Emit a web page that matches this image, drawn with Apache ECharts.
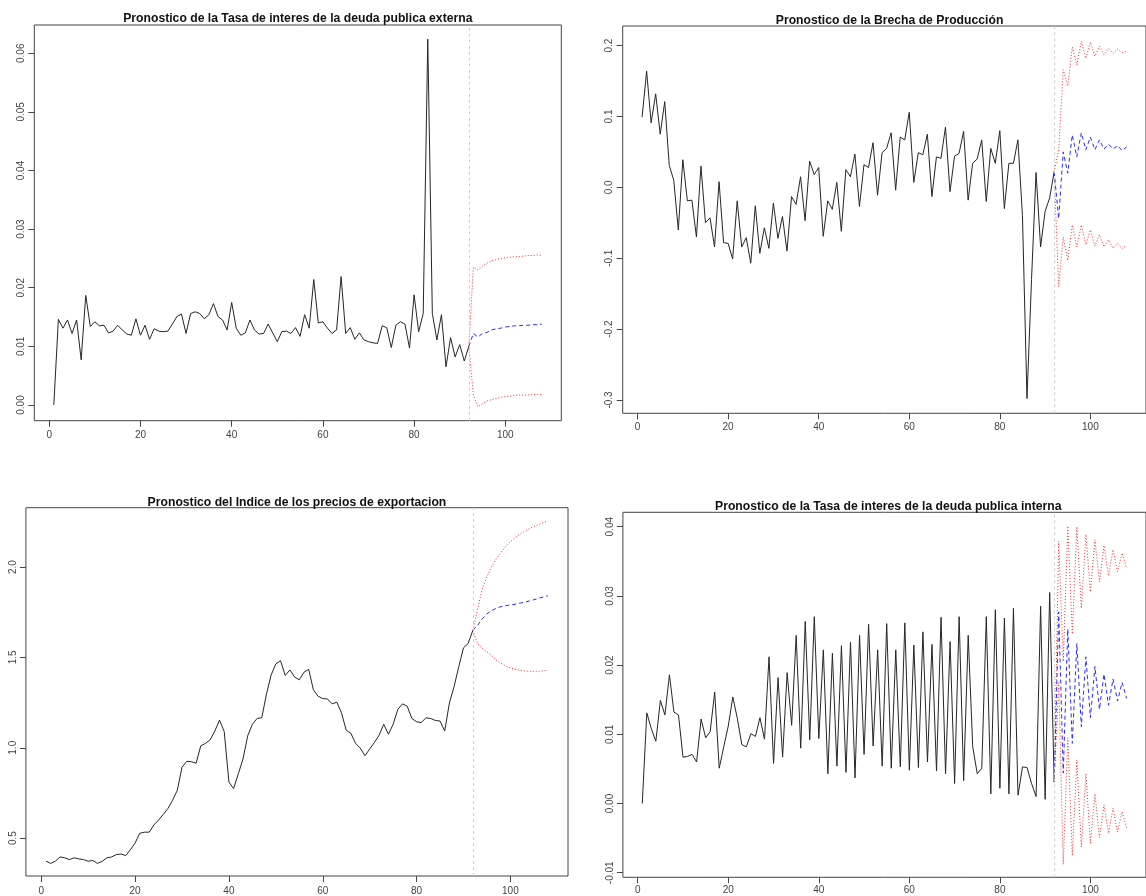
<!DOCTYPE html>
<html>
<head>
<meta charset="utf-8">
<title>Pronosticos</title>
<script src="https://cdn.jsdelivr.net/npm/echarts@6.0.0/dist/echarts.min.js"></script>
<style>
  html, body { margin: 0; padding: 0; background: #ffffff; }
  #chart { width: 1146px; height: 896px; }
</style>
</head>
<body>
<div id="chart"></div>
<script>
// Observed period is t = 1..92; forecasts cover t = 93..108.
const lastObserved = 92;
const xTicks = [0, 20, 40, 60, 80, 100];

// Tasa de interes de la deuda publica externa
const extObs = [0.0000,0.0146,0.0131,0.0145,0.0122,0.0145,0.0077,0.0187,0.0134,0.0142,
  0.0135,0.0136,0.0123,0.0126,0.0136,0.0128,0.0121,0.0119,0.0147,0.0119,
  0.0136,0.0112,0.0130,0.0126,0.0125,0.0126,0.0138,0.0151,0.0155,0.0122,
  0.0156,0.0159,0.0156,0.0147,0.0154,0.0173,0.0151,0.0145,0.0128,0.0175,
  0.0131,0.0119,0.0123,0.0145,0.0128,0.0121,0.0122,0.0138,0.0123,0.0108,
  0.0125,0.0126,0.0122,0.0132,0.0117,0.0154,0.0131,0.0214,0.0140,0.0142,
  0.0131,0.0122,0.0128,0.0219,0.0122,0.0132,0.0112,0.0123,0.0111,0.0108,
  0.0106,0.0105,0.0135,0.0132,0.0098,0.0136,0.0142,0.0138,0.0097,0.0188,
  0.0125,0.0156,0.0624,0.0156,0.0111,0.0154,0.0065,0.0115,0.0082,0.0103,
  0.0075,0.0100];
const extMean  = [0.0122,0.0116,0.0122,0.0124,0.0128,0.0130,0.0131,0.0133,0.0134,0.0135,0.0135,0.0136,0.0136,0.0137,0.0137,0.0138];
const extUpper = [0.0235,0.0230,0.0237,0.0242,0.0246,0.0248,0.0250,0.0251,0.0252,0.0253,0.0253,0.0254,0.0255,0.0255,0.0256,0.0255];
const extLower = [0.0017,-0.0003,0.0002,0.0007,0.0009,0.0011,0.0013,0.0014,0.0015,0.0016,0.0017,0.0017,0.0017,0.0018,0.0018,0.0018];
const extYTicks  = [0, 0.01, 0.02, 0.03, 0.04, 0.05, 0.06];
const extYLabels = ['0.00', '0.01', '0.02', '0.03', '0.04', '0.05', '0.06'];

// Brecha de Produccion
const gapObs = [0.099,0.164,0.091,0.132,0.075,0.121,0.031,0.010,-0.060,0.039,
  -0.019,-0.018,-0.070,0.030,-0.050,-0.043,-0.084,0.008,-0.078,-0.079,
  -0.101,-0.019,-0.084,-0.071,-0.107,-0.026,-0.093,-0.057,-0.086,-0.022,
  -0.072,-0.041,-0.090,-0.013,-0.024,0.015,-0.047,0.037,0.018,0.028,
  -0.069,-0.019,-0.031,0.007,-0.062,0.025,0.015,0.047,-0.027,0.032,
  0.028,0.063,-0.011,0.049,0.055,0.077,-0.004,0.071,0.067,0.106,
  0.007,0.049,0.046,0.075,-0.013,0.043,0.041,0.085,-0.006,0.044,
  0.048,0.079,-0.018,0.034,0.040,0.067,-0.020,0.055,0.034,0.080,
  -0.030,0.034,0.034,0.067,-0.040,-0.298,-0.130,0.021,-0.084,-0.034,
  -0.015,0.022];
const gapMean  = [-0.044,0.050,0.020,0.074,0.043,0.077,0.053,0.071,0.053,0.067,0.054,0.061,0.054,0.059,0.052,0.057];
const gapUpper = [0.053,0.166,0.143,0.198,0.173,0.206,0.182,0.205,0.185,0.199,0.187,0.196,0.189,0.195,0.190,0.192];
const gapLower = [-0.140,-0.070,-0.103,-0.053,-0.084,-0.053,-0.081,-0.060,-0.083,-0.067,-0.084,-0.074,-0.086,-0.079,-0.086,-0.082];
const gapYTicks  = [-0.3, -0.2, -0.1, 0, 0.1, 0.2];
const gapYLabels = ['-0.3', '-0.2', '-0.1', '0.0', '0.1', '0.2'];

// Indice de los precios de exportacion
const priceObs = [0.372,0.360,0.372,0.396,0.391,0.381,0.391,0.385,0.381,0.372,
  0.376,0.360,0.372,0.391,0.396,0.409,0.412,0.403,0.436,0.473,
  0.527,0.533,0.533,0.573,0.600,0.631,0.664,0.710,0.765,0.892,
  0.925,0.923,0.914,1.011,1.024,1.044,1.093,1.153,1.089,0.810,
  0.774,0.856,0.938,1.066,1.130,1.162,1.166,1.297,1.403,1.464,
  1.482,1.400,1.431,1.391,1.376,1.418,1.434,1.321,1.285,1.272,
  1.270,1.243,1.252,1.193,1.097,1.080,1.024,0.998,0.956,0.993,
  1.029,1.069,1.130,1.075,1.130,1.212,1.243,1.230,1.162,1.144,
  1.139,1.166,1.162,1.151,1.148,1.093,1.248,1.339,1.449,1.553,
  1.577,1.650];
const priceMean  = [1.677,1.713,1.741,1.759,1.772,1.781,1.786,1.790,1.794,1.800,1.805,1.812,1.819,1.827,1.834,1.841];
const priceUpper = [1.768,1.878,1.947,2.002,2.046,2.082,2.115,2.140,2.162,2.182,2.197,2.212,2.224,2.235,2.246,2.255];
const priceLower = [1.577,1.549,1.531,1.509,1.485,1.467,1.453,1.442,1.434,1.429,1.425,1.423,1.423,1.423,1.425,1.430];
const priceYTicks  = [0.5, 1.0, 1.5, 2.0];
const priceYLabels = ['0.5', '1.0', '1.5', '2.0'];

// Tasa de interes de la deuda publica interna
const intObs = [0.0000,0.0131,0.0108,0.0090,0.0149,0.0128,0.0186,0.0132,0.0128,0.0067,
  0.0068,0.0071,0.0060,0.0122,0.0095,0.0104,0.0161,0.0051,0.0082,0.0112,
  0.0154,0.0123,0.0085,0.0082,0.0101,0.0097,0.0124,0.0093,0.0212,0.0058,
  0.0182,0.0067,0.0189,0.0113,0.0243,0.0080,0.0263,0.0092,0.0270,0.0094,
  0.0222,0.0043,0.0217,0.0054,0.0228,0.0045,0.0233,0.0037,0.0243,0.0071,
  0.0259,0.0083,0.0222,0.0054,0.0260,0.0051,0.0222,0.0053,0.0261,0.0048,
  0.0229,0.0052,0.0248,0.0060,0.0230,0.0047,0.0269,0.0043,0.0234,0.0029,
  0.0270,0.0033,0.0243,0.0082,0.0043,0.0051,0.0270,0.0014,0.0280,0.0022,
  0.0268,0.0014,0.0282,0.0012,0.0053,0.0052,0.0029,0.0010,0.0285,0.0006,
  0.0305,0.0031];
const intMean  = [0.0277,0.0044,0.0252,0.0087,0.0231,0.0111,0.0212,0.0124,0.0198,0.0136,0.0187,0.0142,0.0180,0.0148,0.0175,0.0152];
const intUpper = [0.0379,0.0205,0.0401,0.0245,0.0400,0.0282,0.0389,0.0306,0.0381,0.0320,0.0373,0.0329,0.0367,0.0335,0.0362,0.0340];
const intLower = [0.0175,-0.0088,0.0095,-0.0075,0.0063,-0.0063,0.0043,-0.0057,0.0014,-0.0049,-0.0002,-0.0043,-0.0007,-0.0041,-0.0012,-0.0036];
const intYTicks  = [-0.01, 0, 0.01, 0.02, 0.03, 0.04];
const intYLabels = ['-0.01', '0.00', '0.01', '0.02', '0.03', '0.04'];

const panels = [
  { title: 'Pronostico de la Tasa de interes de la deuda publica externa',
    obs: extObs, mean: extMean, upper: extUpper, lower: extLower,
    yTicks: extYTicks, yLabels: extYLabels, yMin: -0.00268, yMax: 0.06482,
    box: { left: 34.3, top: 25, width: 527, height: 395.7 }, titleTop: 12.5, xMargin: 10 },
  { title: 'Pronostico de la Brecha de Producción',
    obs: gapObs, mean: gapMean, upper: gapUpper, lower: gapLower,
    yTicks: gapYTicks, yLabels: gapYLabels, yMin: -0.3188, yMax: 0.2277,
    box: { left: 622.7, top: 26, width: 533.7, height: 387.3 }, titleTop: 14, xMargin: 9 },
  { title: 'Pronostico del Indice de los precios de exportacion',
    obs: priceObs, mean: priceMean, upper: priceUpper, lower: priceLower,
    yTicks: priceYTicks, yLabels: priceYLabels, yMin: 0.2904, yMax: 2.3284,
    box: { left: 25.9, top: 507.7, width: 542.1, height: 372.3 }, titleTop: 496, xMargin: 10 },
  { title: 'Pronostico de la Tasa de interes de la deuda publica interna',
    obs: intObs, mean: intMean, upper: intUpper, lower: intLower,
    yTicks: intYTicks, yLabels: intYLabels, yMin: -0.01066, yMax: 0.04208,
    box: { left: 622.9, top: 512.3, width: 530.8, height: 365 }, titleTop: 500, xMargin: 8 }
];

const axisColor = '#444';
const labelFont = { fontFamily: 'Liberation Sans, Arial, sans-serif', fontSize: 10, color: '#444' };

const option = {
  animation: false,
  backgroundColor: '#ffffff',
  title: [], grid: [], xAxis: [], yAxis: [], series: []
};

panels.forEach(function (p, i) {
  option.title.push({
    text: p.title,
    left: p.box.left + p.box.width / 2,
    top: p.titleTop,
    textAlign: 'center',
    padding: 0,
    textStyle: { fontFamily: 'Liberation Sans, Arial, sans-serif', fontSize: 12.2,
                 fontWeight: 'bold', color: '#111', lineHeight: 13 }
  });
  option.grid.push({
    left: p.box.left, top: p.box.top, width: p.box.width, height: p.box.height,
    show: true, borderColor: axisColor, borderWidth: 1, backgroundColor: 'transparent',
    containLabel: false
  });
  option.xAxis.push({
    type: 'value', gridIndex: i, min: -3.28, max: 112.28, position: 'bottom',
    axisLine: { show: false, onZero: false },
    splitLine: { show: false },
    axisTick: { show: true, inside: false, length: 6, customValues: xTicks,
                lineStyle: { color: axisColor, width: 1 } },
    axisLabel: Object.assign({ show: true, margin: p.xMargin, customValues: xTicks,
                formatter: function (v) { return String(v); } }, labelFont)
  });
  option.yAxis.push({
    type: 'value', gridIndex: i, min: p.yMin, max: p.yMax, position: 'left',
    axisLine: { show: false, onZero: false },
    splitLine: { show: false },
    axisTick: { show: true, inside: false, length: 6, customValues: p.yTicks,
                lineStyle: { color: axisColor, width: 1 } },
    axisLabel: Object.assign({ show: true, rotate: 90, margin: 8, customValues: p.yTicks,
                formatter: function (v) {
                  let k = 0, best = Infinity;
                  p.yTicks.forEach(function (t, j) {
                    const d = Math.abs(t - v);
                    if (d < best) { best = d; k = j; }
                  });
                  return p.yLabels[k];
                } }, labelFont)
  });

  const obsData = p.obs.map(function (v, j) { return [j + 1, v]; });
  const lastPoint = [lastObserved, p.obs[p.obs.length - 1]];
  const ahead = function (arr) {
    return [lastPoint].concat(arr.map(function (v, j) { return [lastObserved + 1 + j, v]; }));
  };

  option.series.push({
    type: 'line', xAxisIndex: i, yAxisIndex: i, data: obsData,
    showSymbol: false, symbol: 'none', silent: true,
    lineStyle: { color: '#262626', width: 1 },
    markLine: {
      silent: true, symbol: ['none', 'none'], animation: false,
      label: { show: false },
      lineStyle: { color: '#cfcfcf', type: [3, 3], width: 1 },
      data: [{ xAxis: lastObserved }]
    }
  });
  option.series.push({
    type: 'line', xAxisIndex: i, yAxisIndex: i, data: ahead(p.upper),
    showSymbol: false, symbol: 'none', silent: true,
    lineStyle: { color: '#ff2a2a', width: 1, type: [1, 2] }
  });
  option.series.push({
    type: 'line', xAxisIndex: i, yAxisIndex: i, data: ahead(p.lower),
    showSymbol: false, symbol: 'none', silent: true,
    lineStyle: { color: '#ff2a2a', width: 1, type: [1, 2] }
  });
  option.series.push({
    type: 'line', xAxisIndex: i, yAxisIndex: i, data: ahead(p.mean),
    showSymbol: false, symbol: 'none', silent: true,
    lineStyle: { color: '#2a2aff', width: 1, type: [4, 3] }
  });
});

const chart = echarts.init(document.getElementById('chart'), null, { renderer: 'canvas' });
chart.setOption(option);
</script>
</body>
</html>
